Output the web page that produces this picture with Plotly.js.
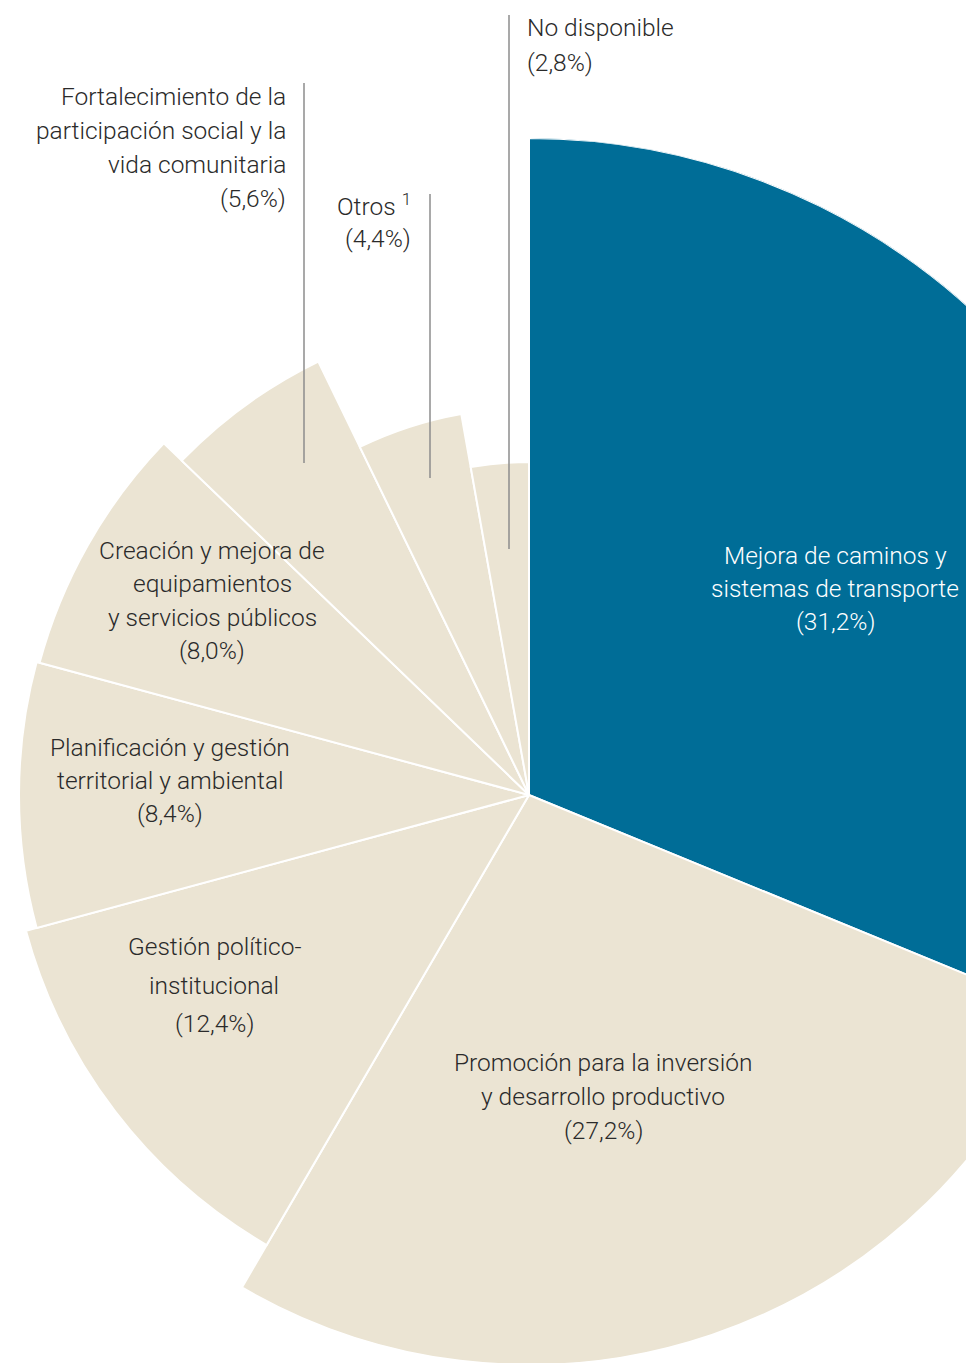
<!DOCTYPE html>
<html>
<head>
<meta charset="utf-8">
<script src="https://cdn.plot.ly/plotly-3.0.1.min.js"></script>
<style>
html,body{margin:0;padding:0;width:966px;height:1363px;overflow:hidden;background:#fff;}
#chart{position:absolute;left:-128px;top:0;width:1314px;height:1452px;}
</style>
</head>
<body>
<div id="chart"></div>
<script>
// ---- data ----
const categories = [
  "Mejora de caminos y sistemas de transporte",
  "Promoción para la inversión y desarrollo productivo",
  "Gestión político-institucional",
  "Planificación y gestión territorial y ambiental",
  "Creación y mejora de equipamientos y servicios públicos",
  "Fortalecimiento de la participación social y la vida comunitaria",
  "Otros",
  "No disponible"
];
const shares = [31.2, 27.2, 12.4, 8.4, 8.0, 5.6, 4.4, 2.8];      // percent
const radii  = [657, 570, 521, 510, 507, 482, 387, 333];          // segment length
const shareLabels = ["(31,2%)","(27,2%)","(12,4%)","(8,4%)","(8,0%)","(5,6%)","(4,4%)","(2,8%)"];
const labelLines = [
  ["Mejora de caminos y", "sistemas de transporte"],
  ["Promoción para la inversión", "y desarrollo productivo"],
  ["Gestión político-", "institucional"],
  ["Planificación y gestión", "territorial y ambiental"],
  ["Creación y mejora de", "equipamientos", "y servicios públicos"],
  ["Fortalecimiento de la", "participación social y la", "vida comunitaria"],
  ["Otros <sup>1</sup>"],
  ["No disponible"]
];

// ---- build ----
const W = 1314, H = 1452, OFFX = 128;
const px = x => (x + OFFX) / W;
const py = y => 1 - y / H;

const widths = shares.map(s => s * 3.6);
const thetas = [];
let acc = 0;
widths.forEach(w => { thetas.push(acc + w / 2); acc += w; });
const colors = shares.map((s, i) => i === 0 ? "#006d97" : "#ebe4d3");

const FONT = "Roboto, sans-serif";
const dark = "#2a2a2a";
const FS = 24.5;

// label placement: [x, first line center y, line spacing, anchor, color]
const place = [
  [835, 555, 33.5, "center", "#ffffff"],
  [603, 1062, 34, "center", dark],
  [214, 947, 38, "center", dark],
  [170, 747, 33.5, "center", dark],
  [212, 550, 33.5, "center", dark],
  [288, 97, 33.7, "right", dark],
  [413, 205, 33.5, "right", dark],
  [525, 28, 34, "left", dark]
];

const annotations = [];
labelLines.forEach((lines, i) => {
  const [x, y0, dy, anchor, col] = place[i];
  lines.concat([shareLabels[i]]).forEach((t, j) => {
    annotations.push({
      xref: "paper", yref: "paper", x: px(x), y: py(y0 + j * dy), text: t,
      showarrow: false, xanchor: anchor, yanchor: "middle", align: anchor,
      font: {family: FONT, size: FS, color: col, weight: 300}
    });
  });
});

const lineStyle = {color: "#8c8c8c", width: 1.5};
const vline = (x, y0, y1) => ({type: "line", xref: "paper", yref: "paper",
  x0: px(x), x1: px(x), y0: py(y0), y1: py(y1), line: lineStyle, layer: "above"});
const shapes = [
  vline(304, 83, 463),
  vline(430, 194, 478),
  vline(509, 15, 549)
];

const trace = {
  type: "barpolar",
  r: radii,
  theta: thetas,
  width: widths,
  text: categories,
  marker: {color: colors, line: {color: "#ffffff", width: 2}},
  hoverinfo: "text"
};

const layout = {
  width: W, height: H,
  margin: {l: 0, r: 0, t: 0, b: 0, pad: 0},
  paper_bgcolor: "rgba(0,0,0,0)",
  showlegend: false,
  polar: {
    domain: {x: [0, 1], y: [0, 1314 / H]},
    bgcolor: "rgba(0,0,0,0)",
    radialaxis: {visible: false, range: [0, 657]},
    angularaxis: {visible: false, rotation: 90, direction: "clockwise"},
    bargap: 0
  },
  annotations: annotations,
  shapes: shapes
};

Plotly.newPlot("chart", [trace], layout, {displayModeBar: false, staticPlot: true});
</script>
</body>
</html>
